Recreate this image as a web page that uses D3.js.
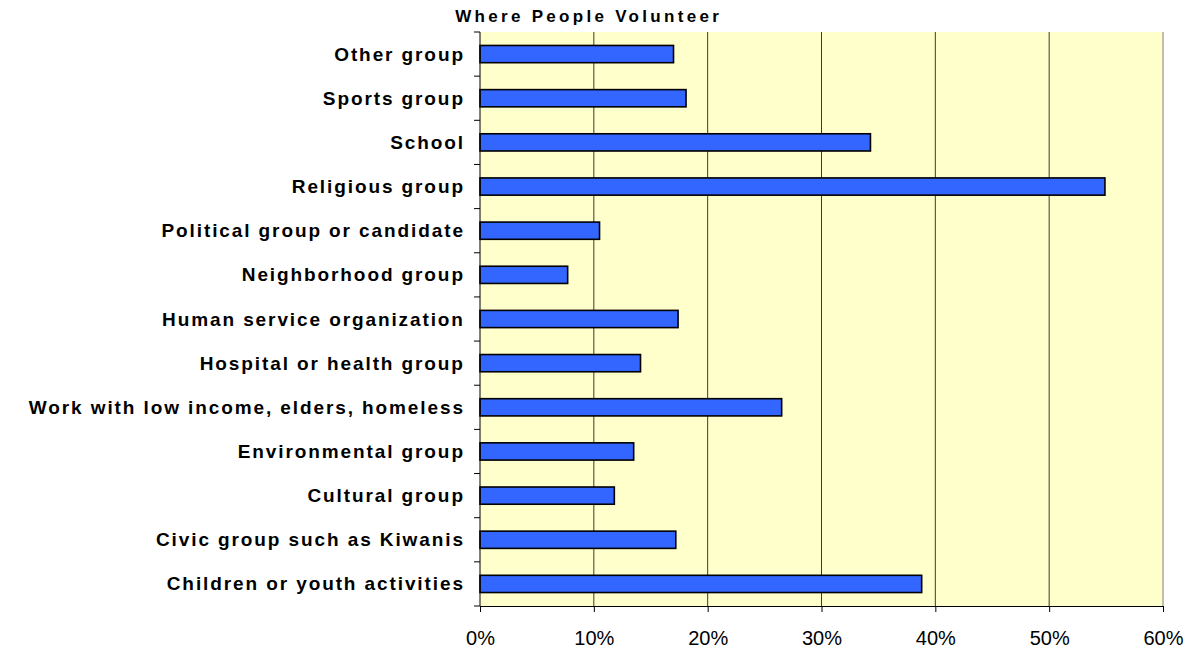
<!DOCTYPE html>
<html><head><meta charset="utf-8">
<script src="https://cdn.jsdelivr.net/npm/d3@7"></script>
<style>body{margin:0;background:#fff;}svg{display:block;}</style>
</head><body>
<svg id="c" width="1195" height="650"></svg>
<script>
const categories = ["Other group","Sports group","School","Religious group","Political group or candidate","Neighborhood group","Human service organization","Hospital or health group","Work with low income, elders, homeless","Environmental group","Cultural group","Civic group such as Kiwanis","Children or youth activities"];
const values = [17.0, 18.1, 34.3, 54.9, 10.5, 7.7, 17.4, 14.1, 26.5, 13.5, 11.8, 17.2, 38.8];
const xTicks = [0,10,20,30,40,50,60];
const title = "Where People Volunteer";

const svg = d3.select("#c");
const m = {left:480, right:1163, top:32, bottom:606};
const font = "Liberation Sans, Arial, sans-serif";
const ls = 1.9;
const tls = 3.3;
const x = d3.scaleLinear().domain([0,60]).range([m.left, m.right]);
const y = d3.scaleBand().domain(categories).range([m.top, m.bottom]).paddingInner(0.61).paddingOuter(0.305);

svg.append("rect").attr("x",m.left).attr("y",m.top).attr("width",m.right-m.left).attr("height",m.bottom-m.top).attr("fill","#FFFFCC");
// gridlines
svg.append("g").selectAll("line").data(xTicks.slice(1)).join("line")
  .attr("x1",d=>x(d)).attr("x2",d=>x(d)).attr("y1",m.top).attr("y2",m.bottom)
  .attr("stroke",d=>d===60?"#808080":"#3a3a3a").attr("stroke-width",1);
// bars
svg.append("g").selectAll("rect").data(values).join("rect")
  .attr("x",x(0)).attr("y",(d,i)=>y(categories[i]))
  .attr("width",d=>x(d)-x(0)).attr("height",y.bandwidth())
  .attr("fill","#3366FF").attr("stroke","#000").attr("stroke-width",1.6);
// x axis
const xa = svg.append("g").attr("transform",`translate(0,${m.bottom})`)
  .call(d3.axisBottom(x).tickValues(xTicks).tickFormat(d=>d+"%").tickSize(6).tickSizeOuter(0));
xa.select(".domain").attr("stroke","#000");
xa.selectAll("line").attr("stroke","#000");
xa.selectAll("text").attr("font-family",font).attr("font-size",20).attr("fill","#000")
  .attr("y",39).attr("dy",null);
// y axis
const boundaries = d3.range(categories.length+1).map(i=>m.top + i*(m.bottom-m.top)/categories.length);
svg.append("line").attr("x1",m.left).attr("x2",m.left).attr("y1",m.top).attr("y2",m.bottom).attr("stroke","#000");
svg.append("g").selectAll("line").data(boundaries).join("line")
  .attr("x1",m.left-6).attr("x2",m.left).attr("y1",d=>d).attr("y2",d=>d).attr("stroke","#000");
svg.append("g").selectAll("text").data(categories).join("text")
  .attr("x",463+ls).attr("y",d=>y(d)+y.bandwidth()/2+6.5)
  .attr("text-anchor","end")
  .attr("font-family",font).attr("font-weight","bold").attr("font-size",19)
  .attr("letter-spacing",ls+"px").attr("fill","#000").text(d=>d);
svg.append("text").attr("x",587+tls/2).attr("y",22).attr("text-anchor","middle")
  .attr("font-family",font).attr("font-weight","bold").attr("font-size",17)
  .attr("letter-spacing",tls+"px").attr("fill","#000").text(title);
</script>
</body></html>
